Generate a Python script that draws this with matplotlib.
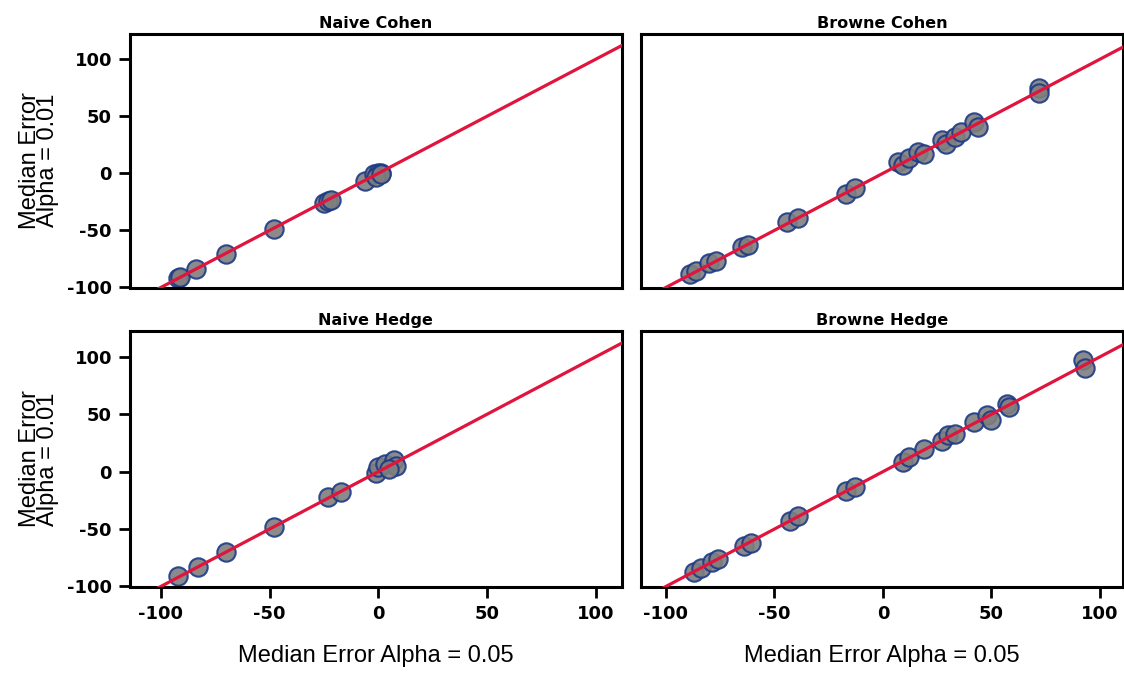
import numpy as np
import matplotlib.pyplot as plt

plt.rcParams['font.family'] = ['Liberation Sans', 'DejaVu Sans']

# median error at alpha = 0.05 (x) vs alpha = 0.01 (y)
naive_cohen_x = [-92, -91, -84, -70, -48, -25, -23, -22, -6, -2, 0, 1, -1, 1]
naive_cohen_y = [-92, -91, -84, -71, -49, -26, -24, -23, -7, -1, 0, 0, -3, -1]

browne_cohen_x = [-89, -86, -80, -77, -65, -62, -44, -39, -17, -13, 7, 9, 12, 16, 19,
                  27, 29, 33, 36, 42, 44, 72, 72]
browne_cohen_y = [-88, -86, -79, -77, -65, -63, -43, -39, -18, -13, 10, 7, 13, 19, 17,
                  29, 26, 32, 36, 45, 41, 75, 70]

naive_hedge_x = [-92, -83, -70, -48, -23, -17, -1, 0, 3, 7, 8, 5]
naive_hedge_y = [-91, -83, -70, -48, -22, -18, -1, 4, 7, 10, 5, 2]

browne_hedge_x = [-87, -84, -79, -76, -64, -61, -43, -39, -17, -13, 9, 12, 19, 27, 30,
                  33, 42, 48, 50, 57, 58, 92, 93]
browne_hedge_y = [-87, -84, -79, -76, -65, -62, -43, -39, -17, -13, 8, 13, 20, 27, 32,
                  33, 43, 49, 45, 59, 56, 97, 90]

titles = ['Naive Cohen', 'Browne Cohen', 'Naive Hedge', 'Browne Hedge']
xs = [naive_cohen_x, browne_cohen_x, naive_hedge_x, browne_hedge_x]
ys = [naive_cohen_y, browne_cohen_y, naive_hedge_y, browne_hedge_y]
ticks = [-100, -50, 0, 50, 100]

fig = plt.figure(figsize=(11.24, 6.82), dpi=100)

W, H = 1124.0, 682.0
# panel boxes in pixels: left, top, right, bottom
boxes = [(130, 33.5, 621.7, 288), (641, 33.5, 1123, 288),
         (130, 331, 621.7, 587), (641, 331, 1123, 587)]
xlims = [(-114.2, 111.9), (-111.5, 110.6), (-114.2, 111.9), (-111.5, 110.6)]

for i in range(4):
    l, t, r, b = boxes[i]
    ax = fig.add_axes([l / W, 1 - b / H, (r - l) / W, (b - t) / H])
    ax.scatter(xs[i], ys[i], s=175, facecolor='#7f7f7f', edgecolor='#1c3a86',
               linewidths=1.5, alpha=0.9, zorder=2)
    xx = np.array(xlims[i])
    ax.plot(xx, xx, color='#e0143c', lw=2.3, zorder=3)
    ax.set_xlim(*xlims[i])
    ax.set_ylim(-100.5, 122.5)
    ax.set_title(titles[i], fontsize=11.5, fontweight='bold', family='DejaVu Sans', pad=4)
    for s in ax.spines.values():
        s.set_linewidth(2.2)
    ax.tick_params(width=2, length=8, pad=5)
    ax.set_xticks(ticks)
    ax.set_yticks(ticks)
    ax.set_xticklabels([str(v) for v in ticks], fontweight='bold', family='DejaVu Sans', fontsize=13)
    ax.set_yticklabels([str(v) for v in ticks], fontweight='bold', family='DejaVu Sans', fontsize=13)
    if i < 2:
        ax.tick_params(axis='x', bottom=False, labelbottom=False)
    else:
        ax.set_xlabel('Median Error Alpha = 0.05', fontsize=17, labelpad=16)
    if i % 2 == 1:
        ax.tick_params(axis='y', left=False, labelleft=False)
    else:
        ax.set_ylabel('Median Error\nAlpha = 0.01', fontsize=17, linespacing=0.75, labelpad=6)

fig.savefig('out.png', dpi=100)
